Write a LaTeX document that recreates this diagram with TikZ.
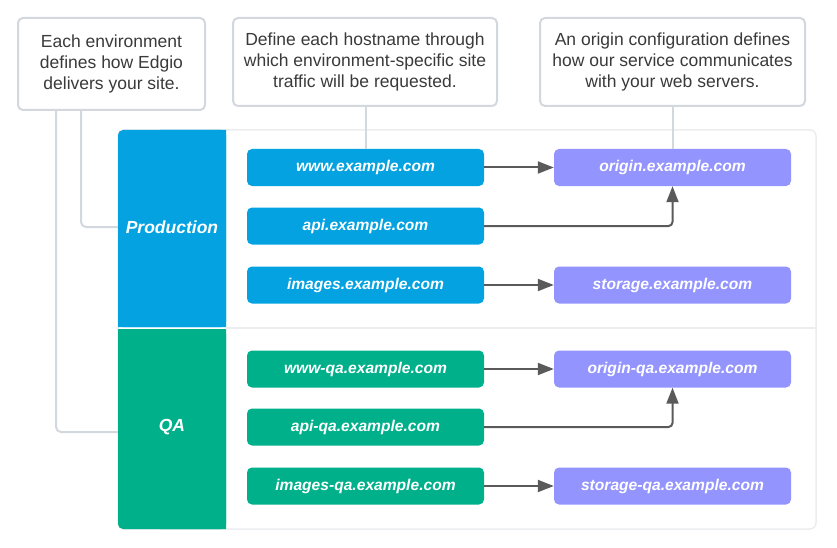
\documentclass[tikz,border=0pt]{standalone}
\usepackage{fontspec}
\setmainfont{Liberation Sans}
\usetikzlibrary{arrows.meta}
\definecolor{prodblue}{HTML}{04A2E0}
\definecolor{qagreen}{HTML}{00B08B}
\definecolor{origlav}{HTML}{9494FF}
\definecolor{calloutgray}{HTML}{D3D7DE}
\definecolor{framegray}{HTML}{ECEDEF}
\definecolor{arrowgray}{HTML}{5A5A5A}
\definecolor{textgray}{HTML}{3A3A3A}
\begin{document}
\begin{tikzpicture}[x=1pt,y=-1pt,
  callout/.style={draw=calloutgray,line width=2pt,rounded corners=5pt,fill=white,inner sep=0pt,
    align=center,text=textgray,font=\fontsize{17.5}{21}\selectfont},
  hostbox/.style={rounded corners=5pt,minimum width=237pt,minimum height=37pt,inner sep=0pt,
    text=white,font=\fontsize{15.6}{18}\selectfont\bfseries\itshape},
  prodhost/.style={hostbox,fill=prodblue},
  qahost/.style={hostbox,fill=qagreen},
  orighost/.style={hostbox,fill=origlav},
  band/.style={inner sep=0pt,minimum width=108pt,text=white,font=\fontsize{17.5}{20}\selectfont\bfseries\itshape},
  link/.style={draw=calloutgray,line width=2pt,rounded corners=5pt},
  flow/.style={draw=arrowgray,line width=2pt,rounded corners=4pt,-{Triangle[length=16pt,width=12pt]}}
]
\useasboundingbox (0,0) rectangle (837,548);
% frame
\draw[framegray,line width=1.5pt,rounded corners=6pt,fill=white] (118,130) rectangle (816,529);
\draw[framegray,line width=1.5pt] (226,328) -- (816,328);
% bands
\fill[prodblue,rounded corners=5pt] (118,130) rectangle (226,327);
\fill[prodblue] (160,130) rectangle (226,327) (118,200) rectangle (226,327);
\fill[qagreen,rounded corners=5pt] (118,329) rectangle (226,529);
\fill[qagreen] (118,329) rectangle (226,450) (160,329) rectangle (226,529);
\node[band] (prod) at (172,227) {Production};
\node[band] (qa) at (172,427) {QA};
% callouts
\node[callout,minimum width=187pt,minimum height=92pt] (c1) at (111.5,64) {Each environment\\defines how Edgio\\delivers your site.};
\node[callout,minimum width=264pt,minimum height=88pt] (c2) at (365,62) {Define each hostname through\\which environment-specific site\\traffic will be requested.};
\node[callout,minimum width=265pt,minimum height=88pt] (c3) at (672.5,62) {An origin configuration defines\\how our service communicates\\with your web servers.};
% hosts
\node[prodhost] (www) at (365.5,167.5) {www.example.com};
\node[prodhost] (api) at (365.5,226) {api.example.com};
\node[prodhost] (img) at (365.5,285) {images.example.com};
\node[orighost] (orig) at (672.5,167.5) {origin.example.com};
\node[orighost] (stor) at (672.5,285) {storage.example.com};
\node[qahost] (wwwqa) at (365.5,369) {www-qa.example.com};
\node[qahost] (apiqa) at (365.5,427) {api-qa.example.com};
\node[qahost] (imgqa) at (365.5,486) {images-qa.example.com};
\node[orighost] (origqa) at (672.5,369) {origin-qa.example.com};
\node[orighost] (storqa) at (672.5,486) {storage-qa.example.com};
% callout links
\draw[link] (c1.south -| 81,0) -- (81,227) -- (prod.west);
\draw[link] (c1.south -| 56,0) -- (56,432) -- (qa.west |- 0,432);
\draw[link] (c2.south -| 366,0) -- (www.north -| 366,0);
\draw[link] (c3.south) -- (orig.north);
% flows
\draw[flow] (www.east) -- (orig.west);
\draw[flow] (api.east) -- (api.east -| orig.south) -- (orig.south);
\draw[flow] (img.east) -- (stor.west);
\draw[flow] (wwwqa.east) -- (origqa.west);
\draw[flow] (apiqa.east) -- (apiqa.east -| origqa.south) -- (origqa.south);
\draw[flow] (imgqa.east) -- (storqa.west);
\end{tikzpicture}
\end{document}
